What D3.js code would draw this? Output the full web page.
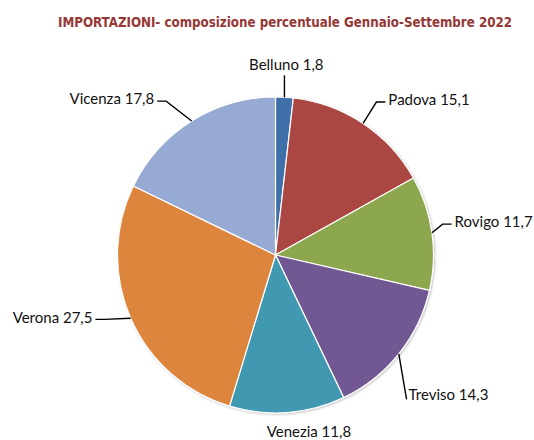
<!DOCTYPE html>
<html>
<head>
<meta charset="utf-8">
<script src="https://cdn.jsdelivr.net/npm/d3@7/dist/d3.min.js"></script>
<style>
  body { margin: 0; background: #fff; }
  .title { font-family: "DejaVu Sans Condensed", "DejaVu Sans", Verdana, sans-serif; font-weight: bold; fill: #953735; }
  .lbl { font-family: Lato, "Open Sans", sans-serif; font-size: 15px; fill: #111; }
</style>
</head>
<body>
<svg id="chart" width="534" height="440"></svg>
<script>
// province e quote percentuali (da ore 12, senso orario)
var province = ["Belluno", "Padova", "Rovigo", "Treviso", "Venezia", "Verona", "Vicenza"];
var quote    = [1.8, 15.1, 11.7, 14.3, 11.8, 27.5, 17.8];
var colori   = ["#3f6faa", "#ab4642", "#8ca74e", "#725893", "#4198b1", "#dd843e", "#97aad4"];

// piccoli spostamenti delle etichette, come nel grafico originale
var labelNudge = [[0, 0], [7, 4], [-10, -6], [-16, 20], [19, -14], [-8, -14], [-20, 6]];

var width = 534, height = 440;
var cx = 275.5, cy = 255, radius = 158;

var svg = d3.select("#chart");

svg.append("text")
    .attr("class", "title")
    .attr("x", 285)
    .attr("y", 27)
    .attr("text-anchor", "middle")
    .attr("font-size", 13.5)
    .attr("textLength", 454)
    .attr("lengthAdjust", "spacingAndGlyphs")
    .text("IMPORTAZIONI- composizione percentuale Gennaio-Settembre 2022");

var defs = svg.append("defs");
var f = defs.append("filter").attr("id", "ombra").attr("x", "-10%").attr("y", "-10%").attr("width", "120%").attr("height", "120%");
f.append("feDropShadow").attr("dx", 1).attr("dy", 1).attr("stdDeviation", 1.2).attr("flood-color", "#000").attr("flood-opacity", 0.25);

var dati = province.map(function(p, i){ return {name: p, value: quote[i], i: i}; });

var pie = d3.pie().sort(null).value(function(d){ return d.value; });
var arc = d3.arc().innerRadius(0).outerRadius(radius);
var archi = pie(dati);

var g = svg.append("g").attr("transform", "translate(" + cx + "," + cy + ")");

g.append("g").attr("filter", "url(#ombra)")
    .selectAll("path")
    .data(archi)
    .enter().append("path")
    .attr("d", arc)
    .attr("fill", function(d){ return colori[d.data.i]; })
    .attr("stroke", "#fff")
    .attr("stroke-width", 1.2);

function fmt(v){ return String(v).replace(".", ","); }

archi.forEach(function(d){
    var i = d.data.i;
    var a = (d.startAngle + d.endAngle) / 2;
    var sx = Math.sin(a), sy = -Math.cos(a);
    var lr = radius + 33;
    var lx = sx * lr + labelNudge[i][0];
    var ly = sy * lr + labelNudge[i][1];
    var px = sx * radius, py = sy * radius;
    var testo = d.data.name + " " + fmt(d.data.value);

    if (Math.abs(sx) < 0.12) {
        // etichetta sopra o sotto la fetta
        g.append("text").attr("class", "lbl")
            .attr("x", lx).attr("y", ly).attr("dy", "0.35em")
            .attr("text-anchor", "middle").text(testo);
        if (sy < 0) {
            g.append("line").attr("x1", px).attr("y1", py).attr("x2", px).attr("y2", ly + 11)
                .attr("stroke", "#000").attr("stroke-width", 1.4);
        }
        return;
    }
    var destra = sx > 0;
    g.append("text").attr("class", "lbl")
        .attr("x", lx).attr("y", ly).attr("dy", "0.35em")
        .attr("text-anchor", destra ? "start" : "end").text(testo);

    var dir = destra ? -1 : 1;
    var punti = [[px, py], [lx + dir * 12, ly + 2], [lx + dir * 3, ly + 2]];
    if (Math.abs(sy) > 0.5 && sy > 0) punti = [[px, py], [lx + dir * 2, ly + 5]];
    g.append("path")
        .attr("d", d3.line()(punti))
        .attr("fill", "none")
        .attr("stroke", "#000")
        .attr("stroke-width", 1.4);
});
</script>
</body>
</html>
